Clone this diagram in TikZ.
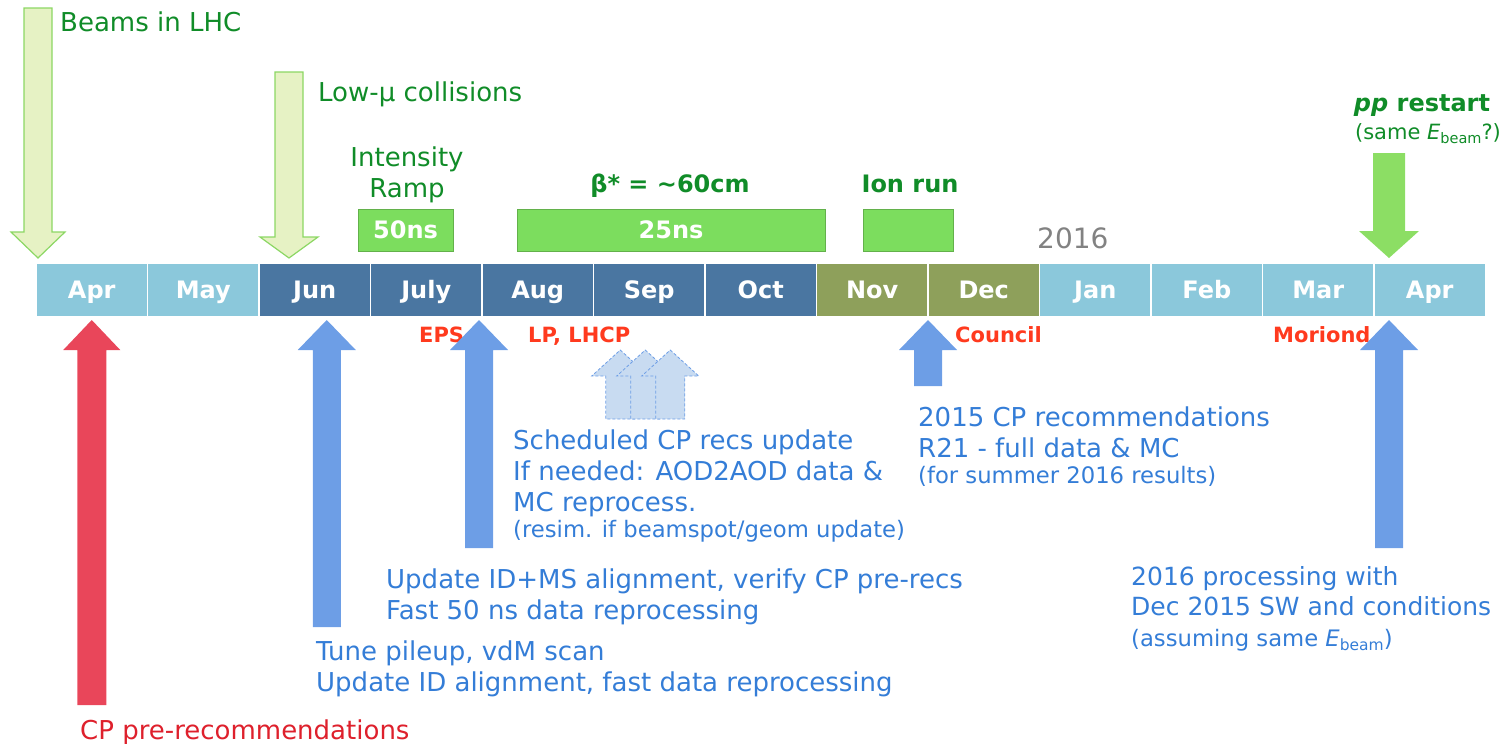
\documentclass[tikz,border=0pt]{standalone}
\usepackage{fontspec}
\setmainfont{DejaVu Sans}
\usepackage{tikz}
\usetikzlibrary{positioning}
\definecolor{monthlight}{RGB}{139,200,219}
\definecolor{monthdark}{RGB}{74,118,161}
\definecolor{montholive}{RGB}{142,160,91}
\definecolor{lhcgreen}{RGB}{16,140,40}
\definecolor{runbar}{RGB}{124,221,94}
\definecolor{ppgreen}{RGB}{140,222,100}
\definecolor{paleleaf}{RGB}{230,242,196}
\definecolor{leafedge}{RGB}{140,215,100}
\definecolor{recblue}{RGB}{52,125,215}
\definecolor{arrowblue}{RGB}{109,158,230}
\definecolor{ghostblue}{RGB}{200,219,241}
\definecolor{confred}{RGB}{255,58,30}
\definecolor{prered}{RGB}{222,32,44}
\definecolor{redarrow}{RGB}{233,70,90}
\definecolor{yeargray}{RGB}{130,130,130}

% block arrow: style, tip, length, head length, half shaft, half head
\newcommand{\fatarrow}[6][]{%
  \path[#1] (#2) -- ++(#6,#4) -- ++({#5-#6},0) -- ++(0,{(#3)-(#4)})
    -- ++({-2*#5},0) -- ++(0,{(#4)-(#3)}) -- ++({#5-#6},0) -- cycle;}
\newcommand{\recsmall}{\fontsize{22.7}{28}\selectfont}
\newcommand{\Ebeam}[1]{\textit{E}\raisebox{-4pt}{\fontsize{#1}{#1}\selectfont beam}}

\begin{document}
\begin{tikzpicture}[
    x=1pt, y=-1pt,
    month/.style={rectangle, minimum width=111.5pt, minimum height=54pt, inner sep=0pt, outer sep=0pt, text height=17pt, text depth=0pt, draw=white, line width=1.5pt, text=white, font=\fontsize{24}{28}\selectfont\bfseries},
    early/.style={month, fill=monthlight},
    busy/.style={month, fill=monthdark},
    ions/.style={month, fill=montholive},
    runbox/.style={rectangle, fill=runbar, draw=runbar!80!black, line width=0.8pt, minimum height=42pt, inner sep=0pt, text=white, font=\fontsize{24}{28}\selectfont\bfseries},
    beamtxt/.style={text=lhcgreen, inner sep=0pt, font=\fontsize{26}{31}\selectfont},
    runtxt/.style={text=lhcgreen, inner sep=0pt, font=\fontsize{24}{28}\selectfont\bfseries},
    conf/.style={text=confred, inner sep=0pt, anchor=base west, font=\fontsize{21}{25}\selectfont\bfseries},
    rec/.style={text=recblue, inner sep=0pt, align=left, anchor=north west, font=\fontsize{26}{31}\selectfont},
    leaf/.style={fill=paleleaf, draw=leafedge, line width=1.2pt},
    upblue/.style={fill=arrowblue},
    ghost/.style={fill=ghostblue, draw=arrowblue, line width=0.8pt, dash pattern=on 3pt off 2pt}
]
\useasboundingbox (0,0) rectangle (1502,744);

% Months
\node[early, anchor=north west] (apr) at (36,263) {Apr};
\node[early, right=0pt of apr] (may) {May};
\node[busy, right=0pt of may] (jun) {Jun};
\node[busy, right=0pt of jun] (jul) {July};
\node[busy, right=0pt of jul] (aug) {Aug};
\node[busy, right=0pt of aug] (sep) {Sep};
\node[busy, right=0pt of sep] (oct) {Oct};
\node[ions, right=0pt of oct] (nov) {Nov};
\node[ions, right=0pt of nov] (dec) {Dec};
\node[early, right=0pt of dec] (jan) {Jan};
\node[early, right=0pt of jan] (feb) {Feb};
\node[early, right=0pt of feb] (mar) {Mar};
\node[early, right=0pt of mar] (aprnext) {Apr};

% Run periods
\node[runbox, minimum width=95pt] (ns50) at (405.5,230) {50ns};
\node[runbox, minimum width=308pt] (ns25) at (671,230) {25ns};
\node[runbox, minimum width=90pt] (ionbox) at (908,230) {};
\node[beamtxt, align=center, anchor=north] (ramp) at (407,147) {Intensity\\Ramp};
\node[runtxt, anchor=base] (betastar) at (670,192) {β* = \textasciitilde60cm};
\node[runtxt, anchor=base] (ionrun) at (910,192) {Ion run};
\node[text=yeargray, inner sep=0pt, anchor=base west, font=\fontsize{28}{32}\selectfont] (year) at (1037,248) {2016};

% LHC milestones
\node[beamtxt, anchor=base west] (beams) at (60,31) {Beams in LHC};
\node[beamtxt, anchor=base west] (lowmu) at (318,101) {Low-μ collisions};
\node[runtxt, anchor=base] (pp) at (1422,111) {\textit{pp} restart};
\node[text=lhcgreen, inner sep=0pt, anchor=base, font=\fontsize{21}{25}\selectfont] (samebeam) at (1428,139) {(same \Ebeam{14.5}?)};

% Conferences
\node[conf] (eps) at (419,342) {EPS};
\node[conf] (lp) at (528,342) {LP, LHCP};
\node[conf] (council) at (955,342) {Council};
\node[conf] (moriond) at (1273,342) {Moriond};

% CP recommendations
\node[text=prered, inner sep=0pt, anchor=base west, font=\fontsize{26}{31}\selectfont] (prerec) at (80,739) {CP pre-recommendations};
\node[rec] (tune) at (316,641) {Tune pileup, vdM scan\\Update ID alignment, fast data reprocessing};
\node[rec] (msalign) at (386,569) {Update ID+MS alignment, verify CP pre-recs\\Fast 50 ns data reprocessing};
\node[rec] (sched) at (513,430) {Scheduled CP recs update\\If needed: AOD2AOD data \&\\MC reprocess.\\[-5pt]{\recsmall (resim. if beamspot/geom update)}};
\node[rec] (r21) at (918,407) {2015 CP recommendations\\R21 - full data \& MC\\[-5pt]{\recsmall (for summer 2016 results)}};
\node[rec, font=\fontsize{25}{30.5}\selectfont] (proc2016) at (1131,566) {2016 processing with\\Dec 2015 SW and conditions\\{\recsmall (assuming same \Ebeam{15.5})}};

% Arrow tips
\coordinate (beamstip) at ([xshift=2pt,yshift=5pt]apr.north west);
\coordinate (lowmutip) at ([xshift=30pt,yshift=5pt]jun.north west);
\coordinate (pptip) at ([xshift=15pt,yshift=5pt]aprnext.north west);
\coordinate (cptip) at ([yshift=-3pt]apr.south);
\coordinate (tunetip) at ([xshift=12pt,yshift=-3pt]jun.south);
\coordinate (aligntip) at ([xshift=-3pt,yshift=-3pt]jul.south east);
\coordinate (r21tip) at ([yshift=-3pt]nov.south east);
\coordinate (proctip) at ([xshift=15pt,yshift=-3pt]aprnext.south west);

% Arrows
\fatarrow[leaf]{beamstip}{-250}{-26}{14}{27}
\fatarrow[leaf]{lowmutip}{-186}{-21}{14}{29}
\fatarrow[fill=ppgreen]{pptip}{-105}{-27}{16}{30}
\fatarrow[fill=redarrow]{cptip}{385}{30}{14.5}{28.5}
\fatarrow[upblue]{tunetip}{307}{30}{14}{29}
\fatarrow[upblue]{aligntip}{228}{30}{14}{29}
\fatarrow[upblue]{r21tip}{66}{30}{14}{29}
\fatarrow[upblue]{proctip}{228}{30}{14}{29}
\fatarrow[ghost]{[xshift=-29pt,yshift=-33pt]sep.south}{69}{26}{14.5}{28.5}
\fatarrow[ghost]{[xshift=-4pt,yshift=-33pt]sep.south}{69}{26}{14.5}{28.5}
\fatarrow[ghost]{[xshift=21pt,yshift=-33pt]sep.south}{69}{26}{14.5}{28.5}
\end{tikzpicture}
\end{document}
